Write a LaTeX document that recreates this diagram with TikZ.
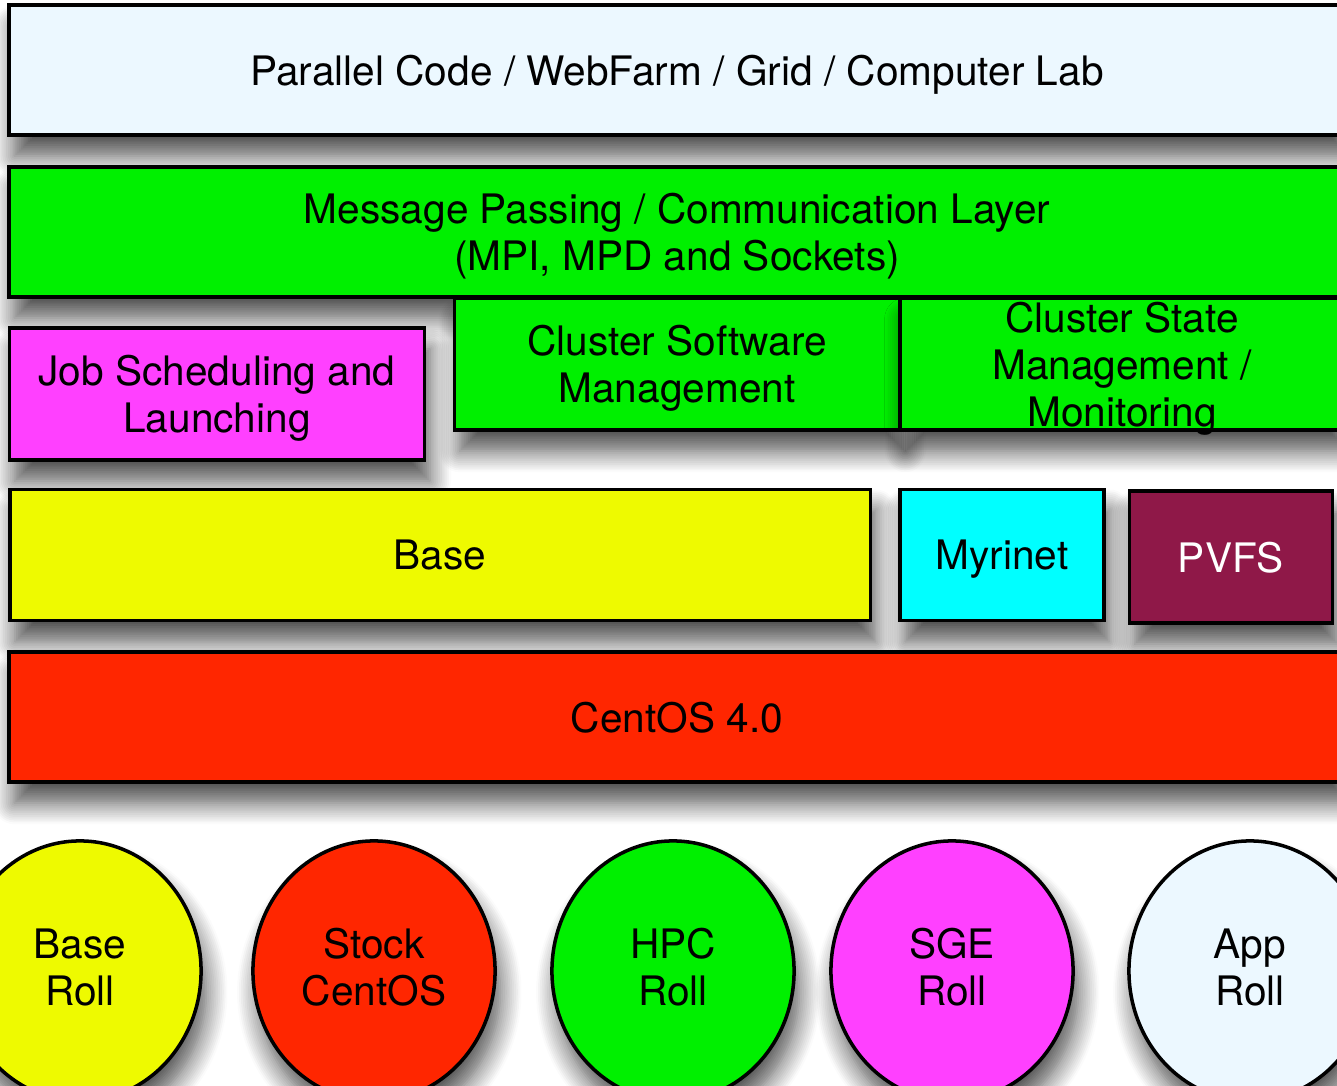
\documentclass[tikz,border=0pt]{standalone}
\usepackage{fontspec}
\setmainfont{TeX Gyre Heros}
\usetikzlibrary{shapes.geometric,shadows.blur}
\definecolor{lightsky}{RGB}{236,248,255}
\definecolor{layergreen}{RGB}{0,240,0}
\definecolor{jobpink}{RGB}{255,64,255}
\definecolor{baseyellow}{RGB}{238,250,0}
\definecolor{netcyan}{RGB}{0,255,255}
\definecolor{pvfsred}{RGB}{143,24,72}
\definecolor{osred}{RGB}{255,38,0}
\begin{document}
\begin{tikzpicture}[x=0.01cm,y=-0.01cm]
\tikzstyle{layer}=[draw,line width=1pt,shape=rectangle,inner sep=0pt,align=center,
  text depth=0pt,font=\fontsize{11.55}{13.4}\selectfont,
  blur shadow={shadow xshift=1.5pt,shadow yshift=-6pt,shadow blur radius=6pt,
    shadow blur steps=12,shadow opacity=70}];
\tikzstyle{roll}=[layer,shape=ellipse,text depth=0.08cm,minimum width=2.42cm,minimum height=2.6cm];
\useasboundingbox (0,0) rectangle (1337,1086);
\clip (0,0) rectangle (1337,1086);
\path (677,70) node[layer,fill=lightsky,minimum width=13.35cm,minimum height=1.3cm] (apps)
  {Parallel Code / WebFarm / Grid / Computer Lab};
\path (677,232) node[layer,fill=layergreen,minimum width=13.35cm,minimum height=1.3cm] (msg)
  {Message Passing / Communication Layer\\(MPI, MPD and Sockets)};
\path (217,394) node[layer,fill=jobpink,minimum width=4.15cm,minimum height=1.32cm] (jobs)
  {Job Scheduling and\\Launching};
\path (677,364) node[layer,fill=layergreen,minimum width=4.45cm,minimum height=1.32cm] (csm)
  {Cluster Software\\Management};
\path (1122,364) node[layer,fill=layergreen,minimum width=4.43cm,minimum height=1.32cm] (state)
  {Cluster State\\Management /\\Monitoring};
\path (440,555) node[layer,fill=baseyellow,minimum width=8.6cm,minimum height=1.31cm] (base) {Base};
\path (1002,555) node[layer,fill=netcyan,minimum width=2.04cm,minimum height=1.31cm] (myri) {Myrinet};
\path (1231,557) node[layer,fill=pvfsred,text=white,minimum width=2.03cm,minimum height=1.32cm] (pvfs) {PVFS};
\path (677,717) node[layer,fill=osred,minimum width=13.35cm,minimum height=1.3cm] (os) {CentOS 4.0};
\foreach \cx/\col/\txt [count=\i] in {80/baseyellow/Base\\Roll,374/osred/Stock\\CentOS,
  673/layergreen/HPC\\Roll,952/jobpink/SGE\\Roll,1250/lightsky/App\\Roll}
{
\path (\cx,971) node[roll,fill=\col] (roll\i) {\txt};
}
\end{tikzpicture}
\end{document}
